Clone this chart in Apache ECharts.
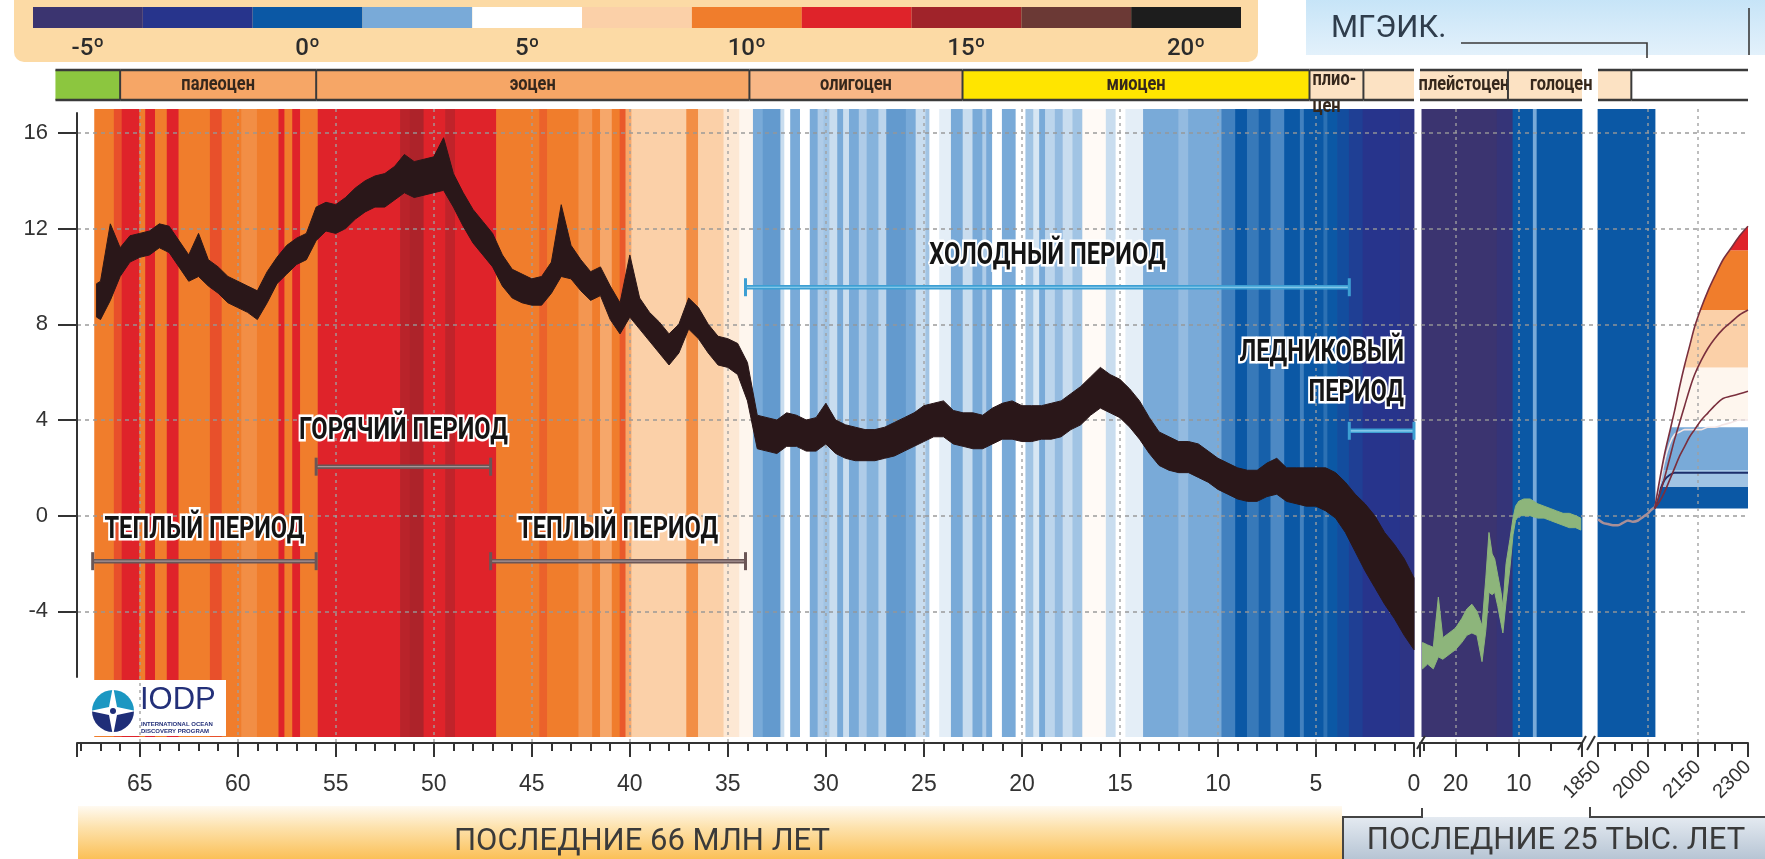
<!DOCTYPE html>
<html><head><meta charset="utf-8">
<script src="https://cdn.jsdelivr.net/npm/echarts@6/dist/echarts.min.js"></script>
<style>html,body{margin:0;padding:0;background:#fff}#c{width:1765px;height:859px}</style>
</head><body><div id="c"></div>
<script>
// ---------------- DATA ----------------
const legendTicks = ['-5º','-2,5º','0º','2,5º','5º','7,5º','10º','12,5º','15º','17,5º','20º'];
const legendTones = [0,1,2,3,4,5,6,7,8,9,10];

// stripes, last 67 Myr (start age of each stripe, Ma) and tone (palette step)
const stripeStartA = [67.3,66.3,65.9,65.0,64.7,64.2,63.6,63.0,61.4,60.8,59.8,59.0,57.9,57.6,57.2,56.8,55.9,51.7,51.2,50.5,49.4,48.9,46.8,44.6,44.2,42.6,41.9,41.5,40.9,40.5,40.2,39.9,37.1,36.5,35.2,34.4,
  33.7,33.2,32.3,32.1,31.8,31.3,30.8,30.4,30.1,29.8,29.4,29.1,28.8,28.3,27.9,27.3,26.9,25.9,25.4,24.9,24.7,24.2,23.6,23.0,22.5,22.0,21.8,21.5,21.0,20.3,19.8,19.4,19.1,18.8,18.3,17.9,17.4,16.9,15.7,15.2,14.7,13.8,12.0,11.5,9.8,9.1,8.5,7.9,7.3,6.6,5.8,5.6,4.6,4.4,3.9,3.3,2.6,0.7];
const stripeToneA  = [6,6.5,7,6,7,6,7,6,6.5,6,5.8,6,7,6,7,6,7,7.6,7.8,7,7.5,7,6,6.3,6,5.7,6,5.5,6,6.4,5.5,5,5.8,5,4.5,4.2,
  3,2.8,3.6,4,3,4,3,3.4,3.3,3.6,3,3.6,3,3.4,3.1,3.5,2.8,3,3.6,3.3,4,3.8,3,3.6,3,3.4,3,4,3,4,3.3,3.7,3,3.5,3.2,3.6,3.3,4.1,3.6,4,3.8,3,3.2,3,2.5,2,2.4,2.1,2.6,2,2.5,2,2.3,2,1.7,1.3,1,0.7];
// stripes, last 25 kyr (kyr BP)
const stripeStartB = [25.3,13.4,10.9,7.7,7.1];
const stripeToneB  = [0,0.3,2,3,2];
// stripes, 1850 onwards (year)
const stripeStartC = [1850];
const stripeToneC  = [2];
const stripeEndC = 2021;

// temperature record, 67 Myr (envelope of the noisy curve)
const mainAgeMa = [67.2,67.0,66.5,66.0,65.5,65.0,64.5,64.0,63.5,63.0,62.5,62.0,61.5,61.0,60.5,60.0,59.5,59.0,58.5,58.0,57.5,57.0,56.5,56.0,55.5,55.0,54.5,54.0,53.5,53.0,52.5,52.0,51.5,51.0,50.5,50.0,49.5,49.0,48.5,48.0,47.5,47.0,46.5,46.0,45.5,45.0,44.5,44.0,43.5,43.0,42.5,42.0,41.5,41.0,40.5,40.0,39.5,39.0,38.5,38.0,37.5,37.0,36.5,36.0,35.5,35.0,34.5,34.0,33.5,33.0,32.5,32.0,31.5,31.0,30.5,30.0,29.5,29.0,28.5,28.0,27.5,27.0,26.5,26.0,25.5,25.0,24.5,24.0,23.5,23.0,22.5,22.0,21.5,21.0,20.5,20.0,19.5,19.0,18.5,18.0,17.5,17.0,16.5,16.0,15.5,15.0,14.5,14.0,13.5,13.0,12.5,12.0,11.5,11.0,10.5,10.0,9.5,9.0,8.5,8.0,7.5,7.0,6.5,6.0,5.5,5.0,4.5,4.0,3.5,3.0,2.5,2.0,1.5,1.0,0.5,0.0];
const mainLow  = [8.3,8.2,9.0,10.0,10.6,10.8,10.9,11.2,11.0,10.4,9.8,10.0,9.6,9.3,8.9,8.7,8.5,8.2,8.9,9.7,10.1,10.5,10.7,11.5,11.9,11.8,12.0,12.4,12.7,12.9,12.9,13.2,13.5,13.3,13.4,13.5,13.6,12.9,12.1,11.4,10.9,10.4,9.6,9.1,8.9,8.8,8.8,9.3,10.0,9.9,9.4,9.0,9.2,8.2,7.6,8.3,7.8,7.3,6.8,6.3,6.8,7.8,7.4,6.8,6.3,6.2,5.9,4.8,2.8,2.7,2.6,2.9,2.9,2.7,2.7,3.0,2.6,2.4,2.3,2.3,2.3,2.4,2.5,2.7,2.9,3.1,3.3,3.3,3.0,2.9,2.8,2.8,3.0,3.2,3.2,3.1,3.1,3.2,3.2,3.3,3.6,3.8,4.2,4.5,4.3,4.1,3.7,3.2,2.6,2.1,1.9,1.8,1.8,1.6,1.4,1.1,0.9,0.7,0.6,0.6,0.8,0.9,0.6,0.5,0.4,0.4,0.2,-0.1,-0.7,-1.5,-2.3,-3.0,-3.7,-4.3,-5.0,-5.6];
const mainHigh = [9.7,9.8,12.2,11.2,11.7,11.8,11.9,12.2,12.1,11.5,10.9,11.8,10.7,10.4,10.0,9.8,9.6,9.4,10.2,10.8,11.3,11.6,11.8,12.9,13.1,13.0,13.3,13.7,14.0,14.2,14.3,14.6,15.1,14.8,14.9,15.0,15.8,14.3,13.5,12.8,12.3,11.8,10.9,10.3,10.1,9.9,10.0,10.6,13.0,11.3,10.7,10.2,10.4,9.6,8.9,10.9,9.1,8.5,8.1,7.6,8.0,9.1,8.7,8.0,7.5,7.4,7.2,6.4,4.2,4.1,4.0,4.3,4.2,4.0,4.1,4.7,4.0,3.8,3.7,3.6,3.6,3.7,3.9,4.1,4.3,4.6,4.7,4.8,4.4,4.3,4.3,4.2,4.5,4.7,4.8,4.6,4.6,4.6,4.7,4.8,5.1,5.4,5.8,6.2,5.9,5.7,5.3,4.8,4.1,3.5,3.3,3.1,3.1,3.0,2.7,2.4,2.2,2.0,1.9,1.9,2.2,2.4,2.0,2.0,2.0,2.0,2.0,1.8,1.4,0.9,0.5,0.0,-0.7,-1.2,-1.8,-2.6];

// temperature record, last 25 kyr
const greenKyr  = [25.2,24.4,23.5,22.7,22.0,21.0,20.0,19.0,18.2,17.4,16.6,15.8,15.2,14.7,14.2,13.8,13.3,12.8,12.5,12.0,11.4,10.9,10.5,10.0,9.2,8.2,7.0,6.0,5.0,4.0,3.0,2.0,1.0,0.2];
const greenLow  = [-6.4,-6.2,-6.4,-5.9,-6.0,-5.8,-5.6,-5.3,-5.0,-4.9,-5.0,-6.1,-4.8,-3.2,-3.3,-3.2,-3.8,-4.5,-4.9,-3.6,-2.2,-0.8,-0.2,0.0,0.0,0.0,-0.1,-0.1,-0.2,-0.3,-0.4,-0.5,-0.5,-0.6];
const greenHigh = [-5.3,-5.4,-5.5,-3.4,-5.1,-4.9,-4.7,-4.3,-3.9,-3.7,-4.0,-4.6,-2.6,-0.7,-1.6,-1.8,-2.5,-3.2,-3.8,-2.0,-1.0,-0.1,0.4,0.6,0.7,0.7,0.5,0.4,0.3,0.2,0.1,0.1,0.0,-0.1];

// instrumental period
const histYear = [1850,1865,1880,1895,1910,1925,1940,1955,1970,1985,2000,2010,2020];
const histTemp = [-0.15,-0.3,-0.35,-0.4,-0.4,-0.3,-0.2,-0.25,-0.2,-0.05,0.1,0.25,0.35];

// projections to 2300
const projYear = [2020,2035,2050,2065,2080,2095,2110,2125,2140,2160,2180,2200,2225,2250,2275,2300];
const scenario1 = [0.3,1.5,2.6,3.5,4.4,5.4,6.3,7.1,7.9,8.7,9.4,10.0,10.7,11.2,11.7,12.1];
const scenario2 = [0.3,0.9,1.6,2.4,3.2,3.9,4.6,5.3,5.9,6.5,7.0,7.4,7.8,8.1,8.4,8.6];
const scenario3 = [0.3,0.6,1.0,1.5,2.0,2.5,2.9,3.3,3.6,4.0,4.3,4.6,4.9,5.0,5.1,5.2];
const scenario4 = [0.3,1.3,2.3,3.0,3.4,3.5,3.6,3.6,3.6,3.6,3.7,3.7,3.8,3.9,4.0,4.0];
const scenario5 = [0.3,1.0,1.5,1.7,1.8,1.8,1.8,1.8,1.8,1.8,1.8,1.8,1.8,1.8,1.8,1.8];
const projBandLo   = [0.3,1.2,1.9,4.0,6.2,8.6,11.1];
const projBandHi   = [1.2,1.9,3.7,6.2,8.6,11.1,12.4];
const projBandTone = [2,3.3,3,4.2,5,6,7];

// geological epochs
const epochStartA = [69.3,66.0,56.0,33.9,23.03,5.33,2.58];
const epochKindA  = ['мел','палеоцен','эоцен','олигоцен','миоцен','плиоцен','плейстоцен'];
const epochLabelA = ['','палеоцен','эоцен','олигоцен','миоцен','плио-\nцен',''];
const epochStartB = [25.6,11.7];
const epochKindB  = ['плейстоцен','голоцен'];
const epochLabelB = ['плейстоцен','голоцен'];
const epochStartC = [1850,1950];
const epochKindC  = ['голоцен','future'];
const epochLabelC = ['',''];

// labelled periods (Ma)
const periodStartMa = [67.4,56.0,47.1,34.1,3.3];
const periodEndMa   = [56.0,47.1,34.1,3.3,0.0];
const periodLevel   = [-1.9,2.05,-1.9,9.55,3.55];
const periodLabel   = ['ТЕПЛЫЙ ПЕРИОД','ГОРЯЧИЙ ПЕРИОД','ТЕПЛЫЙ ПЕРИОД','ХОЛОДНЫЙ ПЕРИОД','ЛЕДНИКОВЫЙ\nПЕРИОД'];
const periodKind    = ['warm','hot','warm','cold','glacial'];

// ---------------- STYLE ----------------
const palette = ['#3b3470','#27348c','#0b58a5','#79aad8','#ffffff','#fbd0a8','#f07d2c','#df232a','#a0232a','#6b3935','#1d1d1d'];
function hex2rgb(h){return [1,3,5].map(i=>parseInt(h.substr(i,2),16));}
function toneColor(t){
  t=Math.max(0,Math.min(10,t)); const i=Math.floor(t), f=t-i;
  if(f<0.001) return palette[i];
  const a=hex2rgb(palette[i]), b=hex2rgb(palette[i+1]);
  return 'rgb('+a.map((v,k)=>Math.round(v+(b[k]-v)*f)).join(',')+')';
}
const epochFill = {'мел':'#8cc63f','палеоцен':'#f6a666','эоцен':'#f6a666','олигоцен':'#f8b786','миоцен':'#ffe500','плиоцен':'#fce2c3','плейстоцен':'#fce2c3','голоцен':'#fce2c3','future':null};
const Y_MIN=-9.5, Y_MAX=17.0, STRIPE_TOP=17.0, STRIPE_BOTTOM=-9.25, EPOCH_TOP=18.63, EPOCH_BOTTOM=17.376;
const AX='#333';
const NUM_FONT='Liberation Sans, Arial, sans-serif';
const COND='Roboto, "DejaVu Sans", sans-serif';

function stripeSeries(xi, yi, starts, tones, endVal){
  const data = starts.map((s,i)=>[s, i+1<starts.length?starts[i+1]:endVal, tones[i]]);
  return {type:'custom', xAxisIndex:xi, yAxisIndex:yi, z:-1, silent:true, animation:false, data,
    encode:{x:[0,1]},
    renderItem:(p,api)=>{
      const a=api.coord([api.value(0),STRIPE_TOP]), b=api.coord([api.value(1),STRIPE_BOTTOM]);
      const x=Math.min(a[0],b[0]), w=Math.abs(b[0]-a[0]);
      return {type:'rect', shape:{x:x-0.4,y:a[1],width:w+0.8,height:b[1]-a[1]}, style:{fill:toneColor(api.value(2))}};
    }};
}
function bandSeries(xi, yi, xs, lo, hi, color){
  return {type:'custom', xAxisIndex:xi, yAxisIndex:yi, z:4, silent:true, animation:false, data:[[xs[0],lo[0]]],
    renderItem:(p,api)=>{
      const pts=[];
      for(let i=0;i<xs.length;i++) pts.push(api.coord([xs[i],hi[i]]));
      for(let i=xs.length-1;i>=0;i--) pts.push(api.coord([xs[i],lo[i]]));
      return {type:'polygon', shape:{points:pts}, style:{fill:color, stroke:color, lineWidth:1, lineJoin:'round'}};
    }};
}
function epochSeries(xi, yi, starts, endVal, kinds, labels, continuesRight){
  const data = starts.map((s,i)=>[s, i+1<starts.length?starts[i+1]:endVal, i]);
  return {type:'custom', xAxisIndex:xi, yAxisIndex:yi, z:5, silent:true, animation:false, data, encode:{x:[0,1]},
    renderItem:(p,api)=>{
      const i=api.value(2);
      const a=api.coord([api.value(0),EPOCH_TOP]), b=api.coord([api.value(1),EPOCH_BOTTOM]);
      const x0=Math.min(a[0],b[0]), x1=Math.max(a[0],b[0]), y0=a[1], y1=b[1];
      const ch=[];
      const fill=epochFill[kinds[i]];
      if(fill) ch.push({type:'rect', shape:{x:x0,y:y0,width:x1-x0,height:y1-y0}, style:{fill}});
      ch.push({type:'line', shape:{x1:x0,y1:y0,x2:x1,y2:y0}, style:{stroke:'#3a3a3a',lineWidth:2.5}});
      ch.push({type:'line', shape:{x1:x0,y1:y1,x2:x1,y2:y1}, style:{stroke:'#3a3a3a',lineWidth:2.5}});
      if(i>0) ch.push({type:'line', shape:{x1:x0,y1:y0,x2:x0,y2:y1}, style:{stroke:'#3a3a3a',lineWidth:2}});
      const lab=labels[i];
      if(lab){
        let tx=(x0+x1)/2, ty=(y0+y1)/2, al='center', va='middle';
        if(lab.indexOf('\n')>=0){tx=x0+3; ty=y0-4; al='left'; va='top';}
        else if(continuesRight && i===starts.length-1){tx=x0+22; al='left';}
        ch.push({type:'text', x:tx, y:ty, scaleX:0.82, style:{text:lab, font:'bold 20px '+COND, fill:'#35271c', align:al, verticalAlign:va, lineHeight:27}});
      }
      return {type:'group', children:ch};
    }};
}
function lineSeries(xi, yi, xs, ys, color, width){
  return {type:'line', xAxisIndex:xi, yAxisIndex:yi, z:6, silent:true, animation:false, showSymbol:false, smooth:0.3,
    data: xs.map((x,i)=>[x,ys[i]]), lineStyle:{color, width}};
}

const xMajor = (grid, min, max, interval, inverse, labelOpt)=>({
  gridIndex:grid, type:'value', min, max, interval, inverse, position:'bottom',
  axisLine:{show:true, onZero:false, lineStyle:{color:AX, width:2}},
  axisTick:{show:true, length:14, lineStyle:{color:AX, width:2}},
  axisLabel:Object.assign({fontSize:23, color:'#333', margin:30, fontFamily:NUM_FONT}, labelOpt),
  splitLine:{show:true, showMinLine:false, showMaxLine:false, lineStyle:{color:'rgba(160,160,160,0.9)', type:[3,4], width:1.5}}
});
const xMinor = (grid, min, max, interval, inverse)=>({
  gridIndex:grid, type:'value', min, max, interval, inverse, position:'bottom',
  axisLine:{show:false, onZero:false}, axisTick:{show:true, length:8, lineStyle:{color:AX, width:2}},
  axisLabel:{show:false}, splitLine:{show:false}
});
const hiddenY = (grid)=>({gridIndex:grid, type:'value', min:Y_MIN, max:Y_MAX, show:false});

const option = {
  animation:false,
  backgroundColor:'#ffffff',
  textStyle:{fontFamily:NUM_FONT},
  grid:[
    {left:77, top:109, width:1337, height:634},
    {left:1420, top:109, width:162, height:634},
    {left:1598, top:109, width:150, height:634},
    {left:77, top:132.925, width:1671, height:478.5},
    {left:77, top:113, width:10, height:564},
    {left:33, top:7, width:1208, height:21}
  ],
  xAxis:[
    xMajor(0, 0, 68.2, 5, true, {formatter:v=>(Math.abs(v%5)<1e-6?String(v):'')}),
    xMinor(0, 0, 68.2, 1, true),
    xMajor(1, 0, 25.6, 10, true, {formatter:v=>(v===10||v===20?String(v):'')}),
    xMinor(1, 0, 25.6, 5, true),
    xMajor(2, 1850, 2300, 150, false, {formatter:v=>String(Math.round(v)), rotate:45, fontSize:20, margin:21}),
    xMinor(2, 1850, 2300, 50, false),
    {gridIndex:3, type:'value', min:0, max:1, show:false},
    {gridIndex:4, type:'value', min:0, max:1, show:false},
    {gridIndex:5, type:'category', data:legendTicks, axisLine:{show:false}, axisTick:{show:false},
     axisLabel:{interval:1, fontSize:24, fontWeight:500, color:'#2b2b2b', margin:9, fontFamily:COND}}
  ],
  yAxis:[
    hiddenY(0), hiddenY(1), hiddenY(2),
    {gridIndex:3, type:'value', min:-4, max:16, interval:4,
     axisLine:{show:false}, axisTick:{show:true, length:19, lineStyle:{color:AX, width:2}},
     axisLabel:{fontSize:22, color:'#333', margin:29, fontFamily:NUM_FONT},
     splitLine:{show:true, lineStyle:{color:'rgba(150,150,150,0.95)', type:[4,4], width:1.5}}},
    {gridIndex:4, type:'value', min:0, max:1, axisLine:{show:true, lineStyle:{color:AX, width:2}},
     axisTick:{show:false}, axisLabel:{show:false}, splitLine:{show:false}},
    {gridIndex:5, type:'value', min:0, max:1, show:false}
  ],
  series:[
    {type:'custom', xAxisIndex:4, yAxisIndex:2, z:-1, silent:true, data:[[2020,0]],
     renderItem:(p,api)=>{
       const ch=[];
       projBandLo.forEach((lo,i)=>{
         const a=api.coord([projYear[0],projBandHi[i]]), b=api.coord([projYear[projYear.length-1],lo]);
         ch.push({type:'rect', shape:{x:a[0],y:a[1],width:b[0]-a[0],height:b[1]-a[1]}, style:{fill:toneColor(projBandTone[i])}});
       });
       const pts=projYear.map((y,i)=>api.coord([y,scenario1[i]]));
       const tr=api.coord([projYear[projYear.length-1],STRIPE_TOP]), tl=api.coord([projYear[0],STRIPE_TOP]);
       pts.push([tr[0]+2,pts[pts.length-1][1]],[tr[0]+2,tr[1]],[tl[0],tl[1]]);
       ch.push({type:'polygon', shape:{points:pts}, style:{fill:'#ffffff'}});
       return {type:'group', children:ch};
     }},
    stripeSeries(0,0,stripeStartA,stripeToneA,0),
    stripeSeries(2,1,stripeStartB,stripeToneB,0),
    stripeSeries(4,2,stripeStartC,stripeToneC,stripeEndC),
    epochSeries(0,0,epochStartA,0,epochKindA,epochLabelA,false),
    epochSeries(2,1,epochStartB,0,epochKindB,epochLabelB,true),
    epochSeries(4,2,epochStartC,2300,epochKindC,epochLabelC,false),
    bandSeries(0,0,mainAgeMa,mainLow,mainHigh,'#2a1719'),
    bandSeries(2,1,greenKyr,greenLow,greenHigh,'#8db57b'),
    lineSeries(4,2,histYear,histTemp,'#a98f97',2.5),
    lineSeries(4,2,projYear,scenario5,'#1d2f6b',2),
    lineSeries(4,2,projYear,scenario4,'#f4e6e6',1.6),
    lineSeries(4,2,projYear,scenario3,'#7a2f3d',1.6),
    lineSeries(4,2,projYear,scenario2,'#7a2f3d',1.6),
    lineSeries(4,2,projYear,scenario1,'#7a2f3d',1.6),
    {type:'custom', xAxisIndex:0, yAxisIndex:0, z:8, silent:true,
     data: periodStartMa.map((s,i)=>[s,periodEndMa[i],periodLevel[i]]), encode:{x:[0,1], y:2},
     renderItem:(p,api)=>{
       const i=p.dataIndex, kind=periodKind[i];
       const a=api.coord([periodStartMa[i],periodLevel[i]]), b=api.coord([periodEndMa[i],periodLevel[i]]);
       const warm=(kind==='warm'||kind==='hot');
       const col=warm?'#6b5656':'#3d9fd3', inner=warm?'#a89696':'#9bd5f1', cap=9;
       const ch=[
         {type:'line', shape:{x1:a[0],y1:a[1],x2:b[0],y2:b[1]}, style:{stroke:col,lineWidth:4.5}},
         {type:'line', shape:{x1:a[0],y1:a[1],x2:b[0],y2:b[1]}, style:{stroke:inner,lineWidth:1.2}},
         {type:'line', shape:{x1:a[0],y1:a[1]-cap,x2:a[0],y2:a[1]+cap}, style:{stroke:col,lineWidth:3}},
         {type:'line', shape:{x1:b[0],y1:b[1]-cap,x2:b[0],y2:b[1]+cap}, style:{stroke:col,lineWidth:3}}
       ];
       let tx=(a[0]+b[0])/2, ty=a[1]-(kind==='hot'?36:31), al='center', va='middle';
       if(kind==='glacial'){tx=b[0]-10; ty=a[1]-18; al='right'; va='bottom';}
       ch.push({type:'text', x:tx, y:ty, scaleX:0.74, style:{text:periodLabel[i], font:'bold 32px '+COND, fill:'#141414',
         stroke:'#ffffff', lineWidth:5, align:al, verticalAlign:va, lineHeight:40}});
       return {type:'group', children:ch};
     }},
    {type:'bar', xAxisIndex:8, yAxisIndex:5, silent:true, barWidth:'100%', barCategoryGap:'0%',
     data: legendTones.map(t=>({value:1, itemStyle:{color:toneColor(t)}}))}
  ],
  graphic:[
    {type:'rect', z:-5, shape:{x:14,y:-12,width:1244,height:74,r:10}, style:{fill:'#fcdaa5'}},
    {type:'rect', z:-5, shape:{x:1306,y:-5,width:470,height:60}, style:{fill:{type:'linear',x:0,y:0,x2:0,y2:1,colorStops:[{offset:0,color:'#c4e3f7'},{offset:1,color:'#e3f1fb'}]}}},
    {type:'text', z:1, x:1331, y:29, style:{text:'МГЭИК.', font:'400 31px '+COND, fill:'#2f3d4c', verticalAlign:'middle'}},
    {type:'polyline', z:1, shape:{points:[[1461,43],[1647,43],[1647,58]]}, style:{stroke:'#3a3a3a', lineWidth:1.6, fill:null}},
    {type:'line', z:1, shape:{x1:1749,y1:8,x2:1749,y2:55}, style:{stroke:'#3a3a3a', lineWidth:1.6}},
    {type:'rect', z:-5, shape:{x:78,y:806,width:1264,height:53}, style:{fill:{type:'linear',x:0,y:0,x2:0,y2:1,colorStops:[{offset:0,color:'#fffaf1'},{offset:0.4,color:'#fde2ad'},{offset:1,color:'#fbc057'}]}}},
    {type:'text', z:1, x:642, y:842, style:{text:'ПОСЛЕДНИЕ 66 МЛН ЛЕТ', font:'400 31px '+COND, fill:'#3a3a3a', align:'center', verticalAlign:'middle'}},
    {type:'rect', z:-5, shape:{x:1342,y:817,width:423,height:42}, style:{fill:{type:'linear',x:0,y:0,x2:0,y2:1,colorStops:[{offset:0,color:'#e4eaf1'},{offset:1,color:'#b7c5d4'}]}}},
    {type:'polyline', z:1, shape:{points:[[1343,859],[1343,817],[1422,817],[1422,808]]}, style:{stroke:'#444', lineWidth:2, fill:null}},
    {type:'polyline', z:1, shape:{points:[[1590,807],[1590,817],[1765,817]]}, style:{stroke:'#444', lineWidth:2, fill:null}},
    {type:'text', z:1, x:1556, y:841, style:{text:'ПОСЛЕДНИЕ 25 ТЫС. ЛЕТ', font:'400 31px '+COND, fill:'#3a3a3a', align:'center', verticalAlign:'middle'}},
    {type:'line', z:1, shape:{x1:1417,y1:749,x2:1425,y2:736}, style:{stroke:AX, lineWidth:2}},
    {type:'line', z:1, shape:{x1:1578,y1:750,x2:1586,y2:736}, style:{stroke:AX, lineWidth:2}},
    {type:'line', z:1, shape:{x1:1587,y1:750,x2:1595,y2:736}, style:{stroke:AX, lineWidth:2}},
    {type:'group', z:5, x:80, y:680, children:[
      {type:'rect', shape:{x:0,y:0,width:146,height:56}, style:{fill:'#ffffff'}},
      {type:'circle', shape:{cx:33,cy:31,r:21}, style:{fill:{type:'linear',x:0,y:0,x2:0,y2:1,colorStops:[{offset:0,color:'#1b97c2'},{offset:0.5,color:'#1b97c2'},{offset:0.5,color:'#1f2e78'},{offset:1,color:'#1f2e78'}]}}},
      {type:'polygon', shape:{points:[[33,6],[37,27],[56,31],[37,35],[33,56],[29,35],[10,31],[29,27]]}, style:{fill:'#ffffff'}},
      {type:'circle', shape:{cx:33,cy:31,r:3}, style:{fill:'#1f2e78'}},
      {type:'text', x:60, y:20, style:{text:'IODP', font:'400 31px '+NUM_FONT, fill:'#233079', verticalAlign:'middle'}},
      {type:'text', x:61, y:41, style:{text:'INTERNATIONAL OCEAN', font:'bold 6px '+NUM_FONT, fill:'#233079'}},
      {type:'text', x:61, y:48, style:{text:'DISCOVERY PROGRAM', font:'bold 6px '+NUM_FONT, fill:'#233079'}}
    ]}
  ]
};
const chart = echarts.init(document.getElementById('c'), null, {width:1765, height:859});
chart.setOption(option);
</script></body></html>
